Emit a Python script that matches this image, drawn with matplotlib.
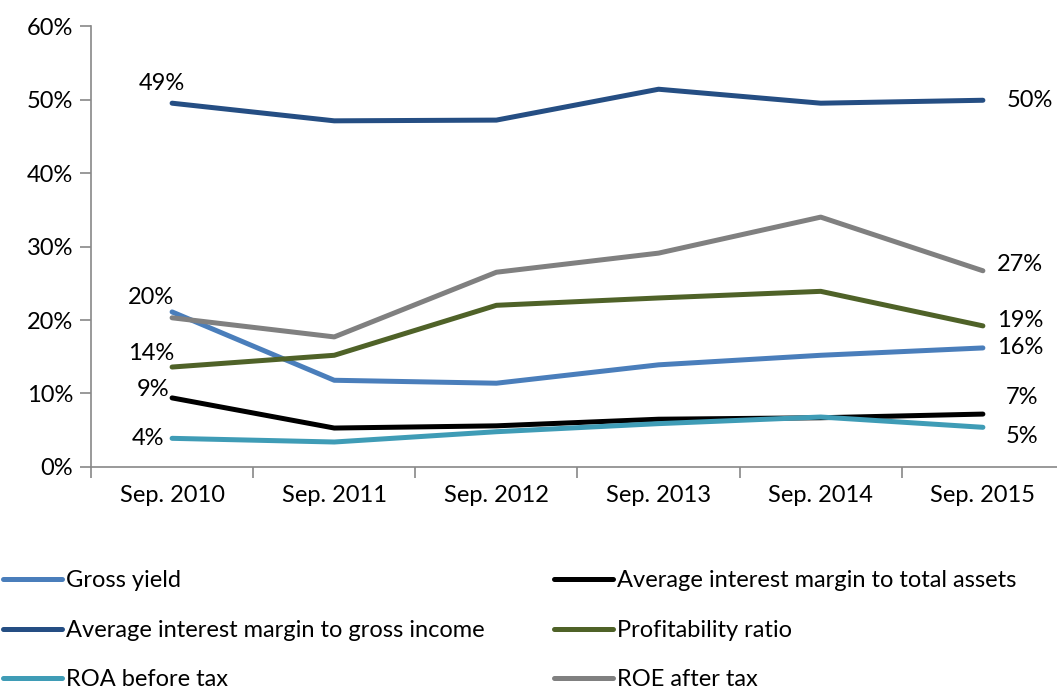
import numpy as np
import matplotlib
matplotlib.use("Agg")
import matplotlib.pyplot as plt
from matplotlib.lines import Line2D

plt.rcParams["font.family"] = ["Lato", "DejaVu Sans"]

years = ["Sep. 2010", "Sep. 2011", "Sep. 2012", "Sep. 2013", "Sep. 2014", "Sep. 2015"]
gross_yield = [21.1, 11.8, 11.4, 13.9, 15.2, 16.2]
margin_assets = [9.4, 5.3, 5.6, 6.5, 6.7, 7.2]
margin_income = [49.5, 47.1, 47.2, 51.4, 49.5, 49.9]
profitability = [13.6, 15.2, 22.0, 23.0, 23.9, 19.2]
roa = [3.9, 3.4, 4.8, 5.9, 6.8, 5.4]
roe = [20.3, 17.7, 26.5, 29.1, 34.0, 26.7]

first_lbl = {"margin_income": "49%", "gross_yield": "20%", "profitability": "14%",
             "margin_assets": "9%", "roa": "4%"}
last_lbl = {"margin_income": "50%", "roe": "27%", "profitability": "19%",
            "gross_yield": "16%", "margin_assets": "7%", "roa": "5%"}

series = [
    ("gross_yield", "Gross yield", gross_yield, "#4A7EBB"),
    ("margin_assets", "Average interest margin to total assets", margin_assets, "#000000"),
    ("margin_income", "Average interest margin to gross income", margin_income, "#254E83"),
    ("profitability", "Profitability ratio", profitability, "#4F6228"),
    ("roa", "ROA before tax", roa, "#3F9CB6"),
    ("roe", "ROE after tax", roe, "#808080"),
]

fig = plt.figure(figsize=(10.57, 6.94), dpi=100)
ax = fig.add_axes([0.0861, 0.3271, 0.9205, 0.6354])
x = np.arange(len(years))
lines = {}
for key, name, vals, col in series:
    ln, = ax.plot(x, vals, color=col, lw=3.6, solid_capstyle="round", label=name)
    lines[key] = ln

# labels on first / last points
first_pos = {"margin_income": (-0.06, 52.2), "gross_yield": (-0.13, 23.1),
             "profitability": (-0.13, 15.5), "margin_assets": (-0.12, 10.6),
             "roa": (-0.15, 3.9)}
last_pos = {"margin_income": (5.29, 49.8), "roe": (5.23, 27.5), "profitability": (5.23, 19.9),
            "gross_yield": (5.23, 16.2), "margin_assets": (5.24, 9.4), "roa": (5.24, 4.2)}
for k, t in first_lbl.items():
    px, py = first_pos[k]
    ax.text(px, py, t, ha="center", va="center", fontsize=17)
for k, t in last_lbl.items():
    px, py = last_pos[k]
    ax.text(px, py, t, ha="center", va="center", fontsize=17)

ax.set_xlim(-0.5, 5.5)
ax.set_ylim(0, 60)
ax.set_yticks(range(0, 61, 10))
ax.set_yticklabels([f"{v}%" for v in range(0, 61, 10)], fontsize=17)
ax.set_xticks(x)
ax.set_xticklabels(years, fontsize=17)
ax.set_xticks(np.arange(-0.5, 6, 1), minor=True)
ax.tick_params(axis="x", which="major", length=0, pad=13)
ax.tick_params(axis="x", which="minor", length=8, color="#888888", width=1.2)
ax.tick_params(axis="y", length=8, color="#888888", width=1.2, pad=5)
for s in ["top", "right"]:
    ax.spines[s].set_visible(False)
for s in ["left", "bottom"]:
    ax.spines[s].set_color("#888888")
    ax.spines[s].set_linewidth(1.2)

order = ["gross_yield", "margin_income", "roa", "margin_assets", "profitability", "roe"]
handles = [Line2D([0], [0], color=lines[k].get_color(), lw=3.6, solid_capstyle="round") for k in order]
labels = [lines[k].get_label() for k in order]
fig.legend(handles, labels, loc="upper left", bbox_to_anchor=(0.003, 0.178), ncol=2,
           frameon=False, fontsize=17, handlelength=2.5, handletextpad=0.15,
           labelspacing=1.2, columnspacing=2.95, borderaxespad=0, borderpad=0)

fig.savefig("out.png", dpi=100)
